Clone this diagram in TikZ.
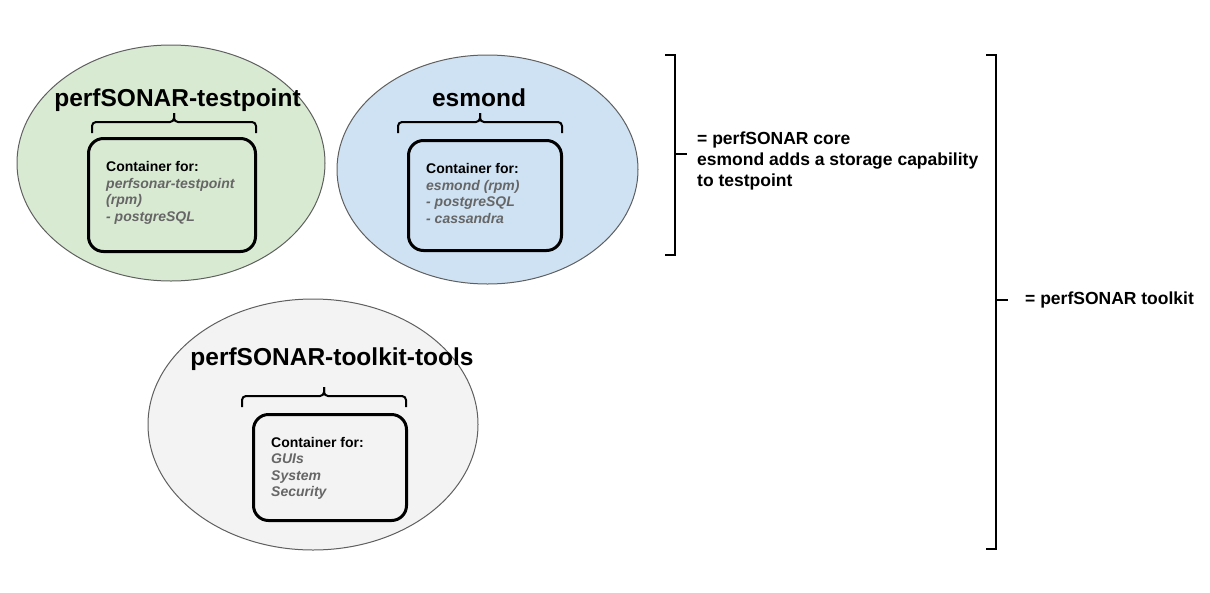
\documentclass[tikz,border=0pt]{standalone}
\usepackage{fontspec}
\setmainfont{Liberation Sans}
\usetikzlibrary{positioning}

\definecolor{tpgreen}{HTML}{D9EAD3}
\definecolor{esblue}{HTML}{CFE2F3}
\definecolor{tkgrey}{HTML}{F3F3F3}
\definecolor{itemgrey}{HTML}{666666}
\definecolor{rimgrey}{HTML}{5F5F5F}

\begin{document}
\begin{tikzpicture}[x=1pt,y=-1pt] % PKGS
\tikzset{%
  pkg/.style={draw=rimgrey,line width=1pt},
  pkgtitle/.style={inner sep=0pt,font=\fontsize{24.5}{28}\selectfont\bfseries},
  container/.style={draw,line width=3pt,rounded corners=15pt,inner sep=0pt},
  boxtext/.style={inner sep=0pt,anchor=north west,align=left,
    font=\fontsize{14}{16.5}\selectfont\bfseries},
  topbrace/.style={line width=2pt,rounded corners=4pt},
  sidebrack/.style={line width=2.5pt},
  note/.style={inner sep=0pt,anchor=west,align=left,
    font=\fontsize{17.5}{21}\selectfont\bfseries}%
}
%% some definitions

\def\Bh{11} % brace height
\def\Bt{9} % brace tip

\useasboundingbox (0,0) rectangle (1210,592);

%% package ellipses

\path[pkg,fill=tpgreen] (171,163) ellipse [x radius=154,y radius=118];
\path[pkg,fill=esblue] (487.5,169.5) ellipse [x radius=150.5,y radius=114.5];
\path[pkg,fill=tkgrey] (313,424.5) ellipse [x radius=165,y radius=125.5];

%% titles

\node[pkgtitle] (tptitle) at (177.5,100) {perfSONAR-testpoint};
\node[pkgtitle] (estitle) at (479,98) {esmond};
\node[pkgtitle] (tktitle) at (332,359) {perfSONAR-toolkit-tools};

%% containers

\node[container,minimum width=167pt,minimum height=113pt] (tpbox) at (172,195) {};
\node[container,minimum width=153pt,minimum height=110pt] (esbox) at (485,195.5) {};
\node[container,minimum width=153pt,minimum height=106pt] (tkbox) at (330,467.5) {};

\node[boxtext] (tptext) at ([xshift=19pt,yshift=-24.5pt]tpbox.north west)
  {Container for:\\ \textit{\color{itemgrey}perfsonar-testpoint}\\
   \textit{\color{itemgrey}(rpm)}\\ \textit{\color{itemgrey}- postgreSQL}};
\node[boxtext] (estext) at ([xshift=19pt,yshift=-24.5pt]esbox.north west)
  {Container for:\\ \textit{\color{itemgrey}esmond (rpm)}\\
   \textit{\color{itemgrey}- postgreSQL}\\ \textit{\color{itemgrey}- cassandra}};
\node[boxtext] (tktext) at ([xshift=19pt,yshift=-24pt]tkbox.north west)
  {Container for:\\ \textit{\color{itemgrey}GUIs}\\
   \textit{\color{itemgrey}System}\\ \textit{\color{itemgrey}Security}};

%% braces between titles and containers

\coordinate (tpL) at (92,122);
\coordinate (tpR) at (256,122);
\coordinate (tpM) at (174,122);
\draw[topbrace] (tpL) ++(0,\Bh) |- (tpM) -- ++(0,-\Bt);
\draw[topbrace] (tpR) ++(0,\Bh) |- (tpM) -- ++(0,-\Bt);

\coordinate (esL) at (398,122);
\coordinate (esR) at (562,122);
\coordinate (esM) at (480,122);
\draw[topbrace] (esL) ++(0,\Bh) |- (esM) -- ++(0,-\Bt);
\draw[topbrace] (esR) ++(0,\Bh) |- (esM) -- ++(0,-\Bt);

\coordinate (tkL) at (242,396);
\coordinate (tkR) at (406,396);
\coordinate (tkM) at (324,396);
\draw[topbrace] (tkL) ++(0,\Bh) |- (tkM) -- ++(0,-\Bt);
\draw[topbrace] (tkR) ++(0,\Bh) |- (tkM) -- ++(0,-\Bt);

%% brackets on the right

\coordinate (coreT) at (675,55);
\coordinate (coreB) at (675,255);
\coordinate (coreM) at (675,154);
\draw[sidebrack] (coreT) ++(-10,0) -- (coreT) -- (coreB) -- ++(-10,0);
\draw[sidebrack] (coreM) -- ++(12,0) coordinate (coreTip);
\node[note] (core) at (697,161)
  {= perfSONAR core\\ esmond adds a storage capability\\ to testpoint};

\coordinate (kitT) at (996,55);
\coordinate (kitB) at (996,549);
\coordinate (kitM) at (996,300);
\draw[sidebrack] (kitT) ++(-10,0) -- (kitT) -- (kitB) -- ++(-10,0);
\draw[sidebrack] (kitM) -- ++(12,0) coordinate (kitTip);
\node[note] (kit) at (1025,300) {= perfSONAR toolkit};
\end{tikzpicture}
\end{document}
